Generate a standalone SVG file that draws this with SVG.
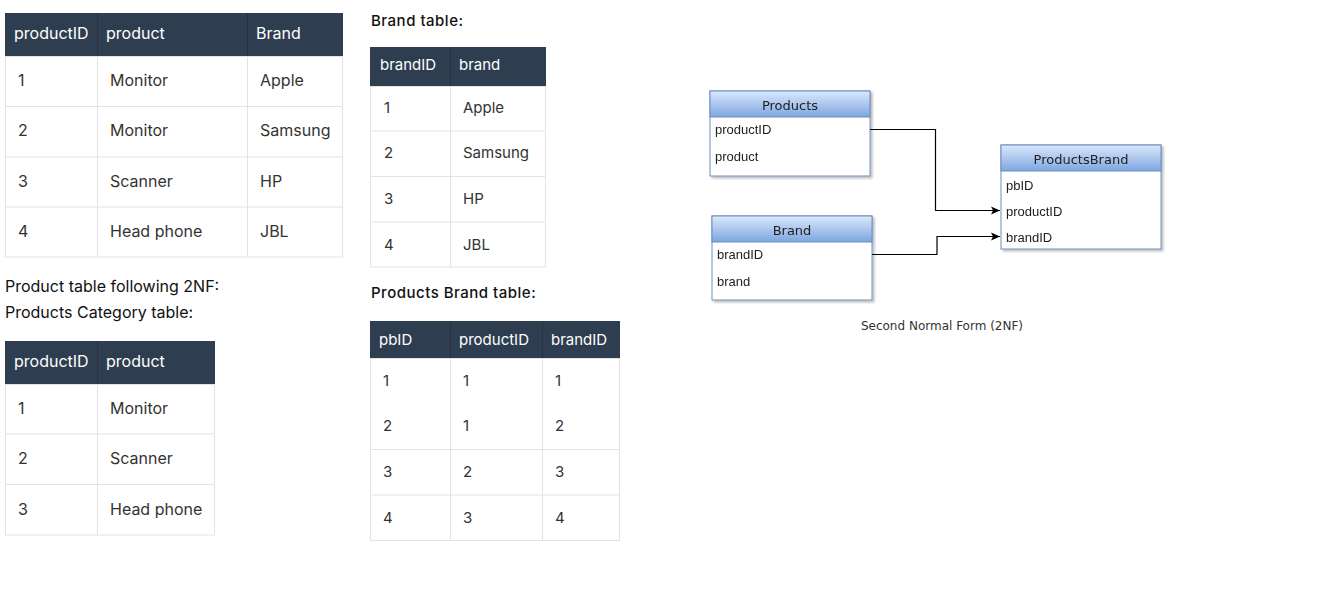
<svg xmlns="http://www.w3.org/2000/svg" width="1339" height="589" viewBox="0 0 1339 589">
<defs>
<linearGradient id="hdr" x1="0" y1="0" x2="0" y2="1">
<stop offset="0" stop-color="#dae8fc"/>
<stop offset="1" stop-color="#7ea6e0"/>
</linearGradient>
<marker id="arr" markerWidth="10" markerHeight="10" refX="9" refY="5" orient="auto" markerUnits="userSpaceOnUse">
<path d="M0,1 L9,5 L0,9 L2,5 Z" fill="#000"/>
</marker>
<filter id="sh" x="-10%" y="-10%" width="130%" height="130%">
<feDropShadow dx="2" dy="2" stdDeviation="1" flood-color="#000" flood-opacity="0.25"/>
</filter>
</defs>
<style>
.th{fill:#2e3d50}
.tb{fill:#fff;stroke:#e3e3e3;stroke-width:1}
.ln{stroke:#e3e3e3;stroke-width:1}
.ht{font-family:Inter,"Liberation Sans",sans-serif;font-size:16px;fill:#fff}
.bt{font-family:Inter,"Liberation Sans",sans-serif;font-size:16px;fill:#333}
.ht2{font-family:Inter,"Liberation Sans",sans-serif;font-size:15px;fill:#fff}
.bt2{font-family:Inter,"Liberation Sans",sans-serif;font-size:15px;fill:#333}
.cap{font-family:Inter,"Liberation Sans",sans-serif;font-size:16px;fill:#111}
.cap2{font-family:Inter,"Liberation Sans",sans-serif;font-size:15px;font-weight:500;letter-spacing:0.5px;fill:#111}
.ebox{fill:#fff;stroke:#6c8ebf;stroke-width:1}
.ehdr{fill:url(#hdr);stroke:#6c8ebf;stroke-width:1}
.etitle{font-family:"DejaVu Sans",sans-serif;font-size:13px;fill:#222;text-anchor:middle}
.efld{font-family:"Liberation Sans",Arial,sans-serif;font-size:13px;fill:#222}
.conn{fill:none;stroke:#000;stroke-width:1.2}
.ecap{font-family:"DejaVu Sans",sans-serif;font-size:12px;fill:#333;text-anchor:middle}
</style>

<g id="table-product">
<rect class="tb" x="5.5" y="56.5" width="337" height="200.5"/>
<rect class="th" x="5" y="13" width="338" height="43"/>
<line class="ln" x1="5" y1="106.5" x2="343" y2="106.5"/>
<line class="ln" x1="5" y1="157" x2="343" y2="157"/>
<line class="ln" x1="5" y1="207" x2="343" y2="207"/>
<line class="ln" x1="97.5" y1="56" x2="97.5" y2="257"/>
<line class="ln" x1="247.5" y1="56" x2="247.5" y2="257"/>
<line x1="97.5" y1="13" x2="97.5" y2="56" stroke="#26323f"/>
<line x1="247.5" y1="13" x2="247.5" y2="56" stroke="#26323f"/>
<text class="ht" x="14" y="39">productID</text>
<text class="ht" x="106" y="39">product</text>
<text class="ht" x="256" y="39">Brand</text>
<text class="bt" x="18" y="86">1</text><text class="bt" x="110" y="86">Monitor</text><text class="bt" x="260" y="86">Apple</text>
<text class="bt" x="18" y="136">2</text><text class="bt" x="110" y="136">Monitor</text><text class="bt" x="260" y="136">Samsung</text>
<text class="bt" x="18" y="187">3</text><text class="bt" x="110" y="187">Scanner</text><text class="bt" x="260" y="187">HP</text>
<text class="bt" x="18" y="237">4</text><text class="bt" x="110" y="237">Head phone</text><text class="bt" x="260" y="237">JBL</text>
</g>

<g id="caption-left">
<text class="cap" x="5" y="292">Product table following 2NF:</text>
<text class="cap" x="5" y="318">Products Category table:</text>
</g>

<g id="table-category">
<rect class="tb" x="5.5" y="384.5" width="209" height="150.5"/>
<rect class="th" x="5" y="341" width="210" height="43"/>
<line class="ln" x1="5" y1="434" x2="215" y2="434"/>
<line class="ln" x1="5" y1="484.5" x2="215" y2="484.5"/>
<line class="ln" x1="97.5" y1="384" x2="97.5" y2="535"/>
<line x1="97.5" y1="341" x2="97.5" y2="384" stroke="#26323f"/>
<text class="ht" x="14" y="367">productID</text>
<text class="ht" x="106" y="367">product</text>
<text class="bt" x="18" y="414">1</text><text class="bt" x="110" y="414">Monitor</text>
<text class="bt" x="18" y="464">2</text><text class="bt" x="110" y="464">Scanner</text>
<text class="bt" x="18" y="515">3</text><text class="bt" x="110" y="515">Head phone</text>
</g>

<g id="caption-brand">
<text class="cap2" x="371" y="26">Brand table:</text>
</g>

<g id="table-brand">
<rect class="tb" x="370.5" y="86.5" width="175" height="180.5"/>
<rect class="th" x="370" y="47" width="176" height="39"/>
<line class="ln" x1="370" y1="131" x2="546" y2="131"/>
<line class="ln" x1="370" y1="176.5" x2="546" y2="176.5"/>
<line class="ln" x1="370" y1="222" x2="546" y2="222"/>
<line class="ln" x1="450.5" y1="86" x2="450.5" y2="267"/>
<line x1="450.5" y1="47" x2="450.5" y2="86" stroke="#26323f"/>
<text class="ht2" x="380" y="70">brandID</text>
<text class="ht2" x="459" y="70">brand</text>
<text class="bt2" x="384" y="113">1</text><text class="bt2" x="463" y="113">Apple</text>
<text class="bt2" x="384" y="158">2</text><text class="bt2" x="463" y="158">Samsung</text>
<text class="bt2" x="384" y="204">3</text><text class="bt2" x="463" y="204">HP</text>
<text class="bt2" x="384" y="250">4</text><text class="bt2" x="463" y="250">JBL</text>
</g>

<g id="caption-pb">
<text class="cap2" x="371" y="298">Products Brand table:</text>
</g>

<g id="table-productsbrand">
<rect class="tb" x="370.5" y="358.5" width="249" height="182"/>
<rect class="th" x="370" y="321" width="250" height="37"/>
<line class="ln" x1="370" y1="449.5" x2="620" y2="449.5"/>
<line class="ln" x1="370" y1="495" x2="620" y2="495"/>
<line class="ln" x1="450.5" y1="358" x2="450.5" y2="541"/>
<line class="ln" x1="542.5" y1="358" x2="542.5" y2="541"/>
<line x1="450.5" y1="321" x2="450.5" y2="358" stroke="#26323f"/>
<line x1="542.5" y1="321" x2="542.5" y2="358" stroke="#26323f"/>
<text class="ht2" x="379" y="345">pbID</text>
<text class="ht2" x="459" y="345">productID</text>
<text class="ht2" x="551" y="345">brandID</text>
<text class="bt2" x="383" y="386">1</text><text class="bt2" x="463" y="386">1</text><text class="bt2" x="555" y="386">1</text>
<text class="bt2" x="383" y="431">2</text><text class="bt2" x="463" y="431">1</text><text class="bt2" x="555" y="431">2</text>
<text class="bt2" x="383" y="477">3</text><text class="bt2" x="463" y="477">2</text><text class="bt2" x="555" y="477">3</text>
<text class="bt2" x="383" y="523">4</text><text class="bt2" x="463" y="523">3</text><text class="bt2" x="555" y="523">4</text>
</g>

<g id="er-products" filter="url(#sh)">
<rect class="ebox" x="710" y="91" width="160" height="85"/>
<rect class="ehdr" x="710" y="91" width="160" height="26"/>
<text class="etitle" x="790" y="110">Products</text>
<text class="efld" x="715" y="134">productID</text>
<text class="efld" x="715" y="161">product</text>
</g>

<g id="er-brand" filter="url(#sh)">
<rect class="ebox" x="712" y="216" width="160" height="84"/>
<rect class="ehdr" x="712" y="216" width="160" height="26"/>
<text class="etitle" x="792" y="235">Brand</text>
<text class="efld" x="717" y="259">brandID</text>
<text class="efld" x="717" y="286">brand</text>
</g>

<g id="er-productsbrand" filter="url(#sh)">
<rect class="ebox" x="1001" y="145" width="160" height="104"/>
<rect class="ehdr" x="1001" y="145" width="160" height="26"/>
<text class="etitle" x="1081" y="164">ProductsBrand</text>
<text class="efld" x="1006" y="190">pbID</text>
<text class="efld" x="1006" y="216">productID</text>
<text class="efld" x="1006" y="242">brandID</text>
</g>

<g id="connectors">
<path class="conn" d="M870,129.5 H935.5 V210.5 H1000" marker-end="url(#arr)"/>
<path class="conn" d="M872,254.5 H937 V236.5 H1000" marker-end="url(#arr)"/>
</g>

<g id="er-caption">
<text class="ecap" x="942" y="330">Second Normal Form (2NF)</text>
</g>
</svg>
